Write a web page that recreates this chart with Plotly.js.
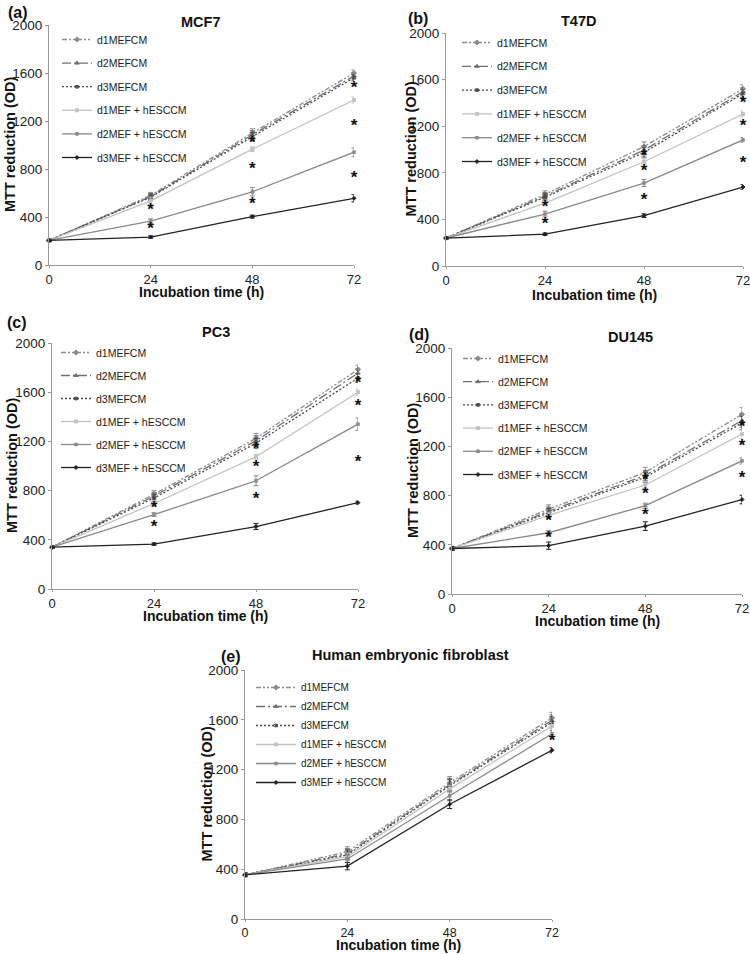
<!DOCTYPE html>
<html><head><meta charset="utf-8">
<script src="https://cdn.plot.ly/plotly-3.0.1.min.js"></script>
<style>html,body{margin:0;padding:0;background:#fff}#chart{width:750px;height:954px}</style>
</head><body><div id="chart"></div>
<script>
// ---------- data ----------
const TIME = [0, 24, 48, 72];
const TIME_TICKS = ['0', '24', '48', '72'];
const Y_TICKS = [0, 400, 800, 1200, 1600, 2000];
const SERIES = ['d1MEFCM', 'd2MEFCM', 'd3MEFCM', 'd1MEF + hESCCM', 'd2MEF + hESCCM', 'd3MEF + hESCCM'];
const PANEL_TITLES = ['MCF7', 'T47D', 'PC3', 'DU145', 'Human embryonic fibroblast'];
const PANEL_LABELS = ['(a)', '(b)', '(c)', '(d)', '(e)'];

// MCF7
const mcf7_d1MEFCM = [205, 580, 1100, 1600];
const mcf7_d2MEFCM = [205, 570, 1085, 1575];
const mcf7_d3MEFCM = [205, 565, 1070, 1560];
const mcf7_d1hES   = [205, 535, 965, 1375];
const mcf7_d2hES   = [205, 365, 610, 940];
const mcf7_d3hES   = [205, 233, 403, 556];
const mcf7_err = [[10,25,35,25],[10,25,35,25],[10,25,35,25],[10,30,20,25],[10,20,35,35],[10,10,12,30]];
const mcf7_starX = [24, 24, 48, 48, 48, 72, 72, 72];
const mcf7_starY = [453, 292, 1008, 797, 506, 1467, 1153, 722];

// T47D
const t47d_d1MEFCM = [240, 615, 1025, 1520];
const t47d_d2MEFCM = [240, 600, 995, 1495];
const t47d_d3MEFCM = [240, 590, 975, 1480];
const t47d_d1hES   = [240, 540, 895, 1305];
const t47d_d2hES   = [240, 446, 712, 1082];
const t47d_d3hES   = [240, 273, 432, 678];
const t47d_err = [[10,30,40,35],[10,30,40,35],[10,30,40,35],[10,25,25,25],[10,25,30,20],[10,10,15,20]];
const t47d_starX = [24, 24, 48, 48, 48, 72, 72, 72];
const t47d_starY = [498, 352, 936, 807, 558, 1397, 1193, 876];

// PC3
const pc3_d1MEFCM = [340, 770, 1225, 1785];
const pc3_d2MEFCM = [340, 755, 1205, 1755];
const pc3_d3MEFCM = [340, 740, 1185, 1715];
const pc3_d1hES   = [340, 695, 1075, 1600];
const pc3_d2hES   = [340, 605, 880, 1340];
const pc3_d3hES   = [340, 365, 508, 702];
const pc3_err = [[10,30,40,35],[10,30,40,35],[10,30,40,35],[10,20,20,25],[10,15,40,50],[10,10,25,12]];
const pc3_starX = [24, 24, 48, 48, 48, 72, 72, 72];
const pc3_starY = [650, 496, 1130, 984, 724, 1667, 1480, 1024];

// DU145
const du145_d1MEFCM = [370, 690, 990, 1460];
const du145_d2MEFCM = [370, 672, 965, 1410];
const du145_d3MEFCM = [370, 660, 950, 1390];
const du145_d1hES   = [370, 640, 886, 1300];
const du145_d2hES   = [370, 498, 718, 1082];
const du145_d3hES   = [370, 393, 552, 768];
const du145_err = [[15,35,40,55],[15,35,40,55],[15,35,40,55],[10,25,30,35],[10,20,20,25],[15,30,35,35]];
const du145_starX = [24, 24, 48, 48, 48, 72, 72, 72];
const du145_starY = [585, 447, 919, 805, 634, 1350, 1195, 935];

// Human embryonic fibroblast
const hef_d1MEFCM = [355, 540, 1095, 1615];
const hef_d2MEFCM = [355, 525, 1080, 1595];
const hef_d3MEFCM = [355, 515, 1070, 1580];
const hef_d1hES   = [355, 500, 1045, 1550];
const hef_d2hES   = [355, 482, 990, 1488];
const hef_d3hES   = [355, 425, 922, 1355];
const hef_err = [[15,40,50,45],[15,40,50,45],[15,40,50,45],[15,30,30,30],[15,30,40,25],[15,30,35,20]];
const hef_starX = [72];
const hef_starY = [1421];

const PANEL_DATA = [
  {vals:[mcf7_d1MEFCM,mcf7_d2MEFCM,mcf7_d3MEFCM,mcf7_d1hES,mcf7_d2hES,mcf7_d3hES], err:mcf7_err, sx:mcf7_starX, sy:mcf7_starY},
  {vals:[t47d_d1MEFCM,t47d_d2MEFCM,t47d_d3MEFCM,t47d_d1hES,t47d_d2hES,t47d_d3hES], err:t47d_err, sx:t47d_starX, sy:t47d_starY},
  {vals:[pc3_d1MEFCM,pc3_d2MEFCM,pc3_d3MEFCM,pc3_d1hES,pc3_d2hES,pc3_d3hES], err:pc3_err, sx:pc3_starX, sy:pc3_starY},
  {vals:[du145_d1MEFCM,du145_d2MEFCM,du145_d3MEFCM,du145_d1hES,du145_d2hES,du145_d3hES], err:du145_err, sx:du145_starX, sy:du145_starY},
  {vals:[hef_d1MEFCM,hef_d2MEFCM,hef_d3MEFCM,hef_d1hES,hef_d2hES,hef_d3hES], err:hef_err, sx:hef_starX, sy:hef_starY}
];

// ---------- styles ----------
const STYLE = [
  {color:'#8c8c8c', dash:'5px,2px,2px,2px,2px,2px', symbol:'diamond', size:4},
  {color:'#707070', dash:'9px,3px,2px,3px', symbol:'triangle-up', size:4},
  {color:'#4a4a4a', dash:'2px,2px', symbol:'x', size:3},
  {color:'#c2c2c2', dash:'solid', symbol:'square', size:3},
  {color:'#8a8a8a', dash:'solid', symbol:'x', size:3},
  {color:'#222222', dash:'solid', symbol:'diamond', size:3}
];

// panel geometry in pixels (W=750,H=954)
const W = 750, H = 954;
const GEOM = [
  {x0:49,  x1:354, y0:25,  y1:265, title:[200,22],  label:[18,13],  ytx:10,  xty:292, leg:[57,25],  gap:4.6, iw:30, fs:10.5, tf:13},
  {x0:446, x1:743, y0:33,  y1:266, title:[578,21],  label:[418,19], ytx:411, xty:295, leg:[457,28], gap:4.8, iw:30, fs:10.5, tf:13},
  {x0:52,  x1:358, y0:343, y1:589, title:[216,332], label:[17,323], ytx:12,  xty:616, leg:[56,338], gap:4.0, iw:30, fs:10.5, tf:13},
  {x0:452, x1:742, y0:348, y1:594, title:[630,337], label:[419,335],ytx:413, xty:621, leg:[458,344], gap:4.2, iw:30, fs:10.5, tf:13},
  {x0:245, x1:552, y0:670, y1:919, title:[410,655], label:[231,656],ytx:206, xty:945, leg:[251,673], gap:0, iw:40, fs:10, tf:12.5}
];
const px = v => v / W, py = v => 1 - v / H;

const FONT = 'Liberation Sans, Arial, Helvetica, sans-serif';
const traces = [];
const layout = {
  width: W, height: H, margin:{l:0,r:0,t:0,b:0},
  paper_bgcolor:'#ffffff', plot_bgcolor:'#ffffff',
  font:{family:FONT, color:'#222'},
  showlegend:true, annotations:[]
};

GEOM.forEach((g, p) => {
  const n = p + 1;
  const xa = 'xaxis' + (n === 1 ? '' : n), ya = 'yaxis' + (n === 1 ? '' : n);
  const xr = 'x' + (n === 1 ? '' : n), yr = 'y' + (n === 1 ? '' : n);
  const legName = 'legend' + (n === 1 ? '' : n);
  layout[xa] = {
    domain:[px(g.x0), px(g.x1)], range:[0,72], anchor:yr,
    tickvals:TIME, ticktext:TIME_TICKS, showgrid:false, zeroline:false,
    showline:true, linecolor:'#9a9a9a', linewidth:1,
    ticks:'outside', ticklen:2, tickcolor:'#9a9a9a', ticklabeloverflow:'allow',
    tickfont:{size:g.tf, family:FONT, color:'#222'}, fixedrange:true
  };
  layout[ya] = {
    domain:[py(g.y1), py(g.y0)], range:[0,2000], anchor:xr,
    tickvals:Y_TICKS, showgrid:false, zeroline:false,
    showline:true, linecolor:'#9a9a9a', linewidth:1,
    ticks:'outside', ticklen:3, tickcolor:'#9a9a9a', ticklabeloverflow:'allow',
    tickfont:{size:13.5, family:FONT, color:'#222'}, fixedrange:true
  };
  layout[legName] = {
    x:px(g.leg[0]), y:py(g.leg[1]), xanchor:'left', yanchor:'top',
    bgcolor:'rgba(0,0,0,0)', borderwidth:0,
    font:{size:g.fs, family:FONT, color:'#222'},
    traceorder:'grouped', tracegroupgap:g.gap, itemwidth:g.iw
  };
  const d = PANEL_DATA[p];
  SERIES.forEach((name, s) => {
    const st = STYLE[s];
    traces.push({
      type:'scatter', mode:'lines+markers', name:name,
      x:TIME, y:d.vals[s], xaxis:xr, yaxis:yr,
      legend:legName, legendgroup:'p'+n+'s'+s,
      line:{color:st.color, width:1.3, dash:st.dash},
      marker:{symbol:st.symbol, size:st.size, color:st.color, line:{color:st.color, width:1}},
      error_y:{type:'data', array:d.err[s], visible:true, color:st.color, thickness:1, width:2.5},
      cliponaxis:false, hoverinfo:'skip'
    });
  });
  traces.push({
    type:'scatter', mode:'text', x:d.sx, y:d.sy, xaxis:xr, yaxis:yr,
    text:d.sx.map(() => '*'), textposition:'middle center',
    textfont:{size:17, family:FONT, color:'#111', weight:'bold'},
    showlegend:false, cliponaxis:false, hoverinfo:'skip'
  });
  layout.annotations.push(
    {text:'<b>'+PANEL_TITLES[p]+'</b>', x:px(g.title[0]), y:py(g.title[1]), xref:'paper', yref:'paper',
     xanchor:'center', yanchor:'middle', showarrow:false, font:{size:14.5, family:FONT, color:'#111'}},
    {text:'<b>'+PANEL_LABELS[p]+'</b>', x:px(g.label[0]), y:py(g.label[1]), xref:'paper', yref:'paper',
     xanchor:'center', yanchor:'middle', showarrow:false, font:{size:16, family:FONT, color:'#111'}},
    {text:'<b>MTT reduction (OD)</b>', x:px(g.ytx), y:py((g.y0+g.y1)/2), xref:'paper', yref:'paper',
     xanchor:'center', yanchor:'middle', textangle:-90, showarrow:false, font:{size:14.5, family:FONT, color:'#111'}},
    {text:'<b>Incubation time (h)</b>', x:px((g.x0+g.x1)/2), y:py(g.xty), xref:'paper', yref:'paper',
     xanchor:'center', yanchor:'middle', showarrow:false, font:{size:14, family:FONT, color:'#111'}}
  );
});

Plotly.newPlot('chart', traces, layout, {staticPlot:true, displayModeBar:false});
</script>
</body></html>
